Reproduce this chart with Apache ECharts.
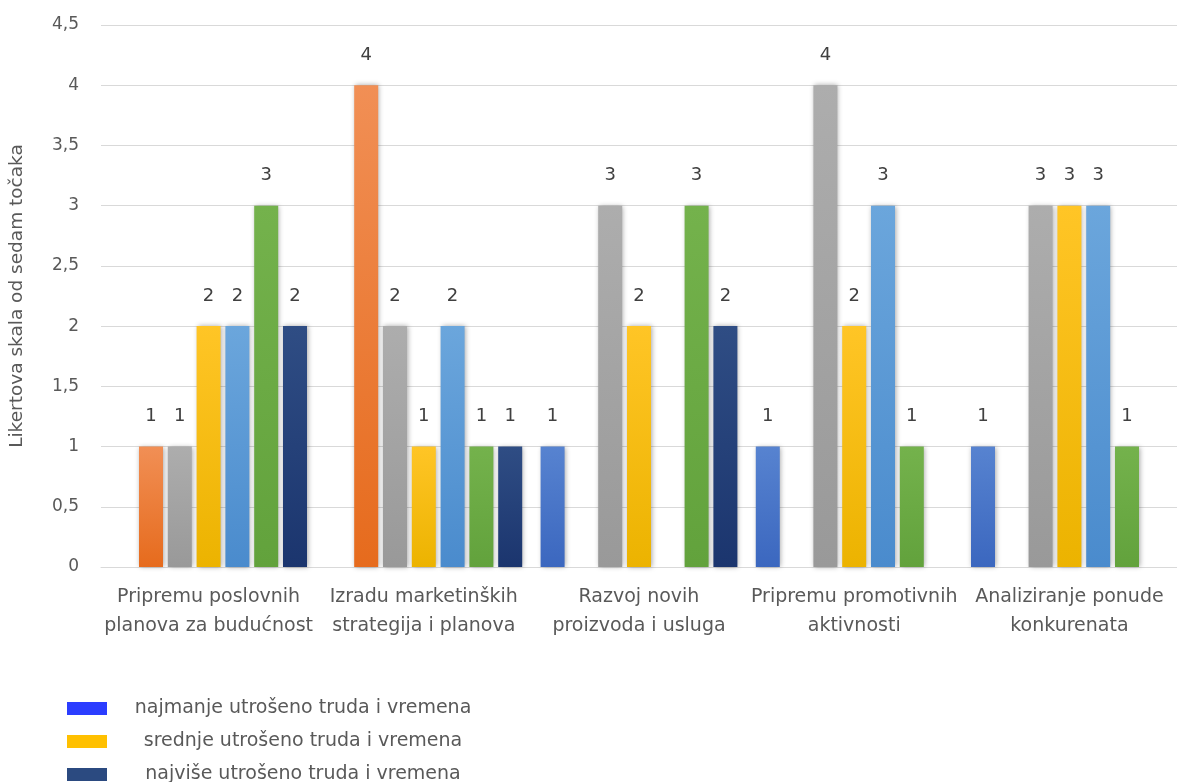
<!DOCTYPE html>
<html>
<head>
<meta charset="utf-8">
<script src="https://cdn.jsdelivr.net/npm/echarts@6/dist/echarts.min.js"></script>
<style>
html,body{margin:0;padding:0;background:#fff;}
#chart{width:1177px;height:782px;}
</style>
</head>
<body>
<div id="chart"></div>
<script>
const categories = [
  "Pripremu poslovnih\nplanova za budućnost",
  "Izradu marketinških\nstrategija i planova",
  "Razvoj novih\nproizvoda i usluga",
  "Pripremu promotivnih\naktivnosti",
  "Analiziranje ponude\nkonkurenata"
];
const yTicks = [0, 0.5, 1, 1.5, 2, 2.5, 3, 3.5, 4, 4.5];
const seriesNames = [
  "najmanje utrošeno truda i vremena",
  "serija 2",
  "serija 3",
  "srednje utrošeno truda i vremena",
  "serija 5",
  "serija 6",
  "najviše utrošeno truda i vremena"
];
const royalValues  = [0, 0, 1, 1, 1];
const orangeValues = [1, 4, 0, 0, 0];
const grayValues   = [1, 2, 3, 4, 3];
const yellowValues = [2, 1, 2, 2, 3];
const lblueValues  = [2, 2, 0, 3, 3];
const greenValues  = [3, 1, 3, 1, 1];
const navyValues   = [2, 1, 2, 0, 0];
const legendNames = [seriesNames[0], seriesNames[3], seriesNames[6]];
const legendColors = ['#2B3DFF', '#FFC000', '#2B4A80'];

const allValues = [royalValues, orangeValues, grayValues, yellowValues, lblueValues, greenValues, navyValues];
const gradients = [
  ['#5783D0', '#3B67BF'],
  ['#F18F55', '#E66B1D'],
  ['#ADADAD', '#999999'],
  ['#FFC526', '#ECB300'],
  ['#6BA6DC', '#4A8BCD'],
  ['#74B24C', '#62A23C'],
  ['#2F4D84', '#1B356E']
];

const chart = echarts.init(document.getElementById('chart'));
const font = 'DejaVu Sans';
const series = allValues.map((vals, i) => ({
  name: seriesNames[i],
  type: 'bar',
  barWidth: 24,
  barGap: '20%',
  data: vals.map(v => v === 0 ? '-' : v),
  itemStyle: {
    color: new echarts.graphic.LinearGradient(0, 0, 0, 1, [
      {offset: 0, color: gradients[i][0]},
      {offset: 1, color: gradients[i][1]}
    ]),
    shadowBlur: 5,
    shadowColor: 'rgba(0,0,0,0.35)',
    shadowOffsetX: 1,
    shadowOffsetY: 0
  },
  label: {
    show: true,
    position: 'top',
    distance: 21,
    color: '#404040',
    fontFamily: font,
    fontSize: 18
  }
}));

chart.setOption({
  animation: false,
  backgroundColor: '#ffffff',
  grid: {left: 98, right: -12, top: 25, bottom: 215, containLabel: false},
  xAxis: {
    type: 'category',
    data: categories,
    axisLine: {lineStyle: {color: '#D9D9D9', width: 1}},
    axisTick: {show: false},
    axisLabel: {
      color: '#595959',
      fontFamily: font,
      fontSize: 19,
      lineHeight: 29,
      margin: 16,
      interval: 0
    }
  },
  yAxis: {
    type: 'value',
    min: 0,
    max: 4.5,
    interval: 0.5,
    name: 'Likertova skala od sedam točaka',
    nameLocation: 'middle',
    nameGap: 74,
    nameRotate: 90,
    nameTextStyle: {color: '#595959', fontFamily: font, fontSize: 18.5},
    axisLine: {show: false},
    axisTick: {show: false},
    splitLine: {lineStyle: {color: '#D9D9D9', width: 1}},
    axisLabel: {
      color: '#595959',
      fontFamily: font,
      fontSize: 17,
      margin: 22,
      formatter: v => yTicks.indexOf(v) >= 0 ? String(v).replace('.', ',') : ''
    }
  },
  legend: {
    orient: 'vertical',
    left: 62,
    top: 694,
    height: 200,
    itemWidth: 40,
    itemHeight: 13,
    itemGap: 14,
    icon: 'rect',
    data: legendNames.map((n, i) => ({name: n, itemStyle: {color: legendColors[i]}})),
    formatter: name => '{t|' + name + '}',
    textStyle: {
      color: '#595959',
      fontFamily: font,
      fontSize: 19,
      rich: {t: {width: 382, lineHeight: 20, align: 'center', fontSize: 19, color: '#595959', fontFamily: font}}
    }
  },
  series: series
});
</script>
</body>
</html>
